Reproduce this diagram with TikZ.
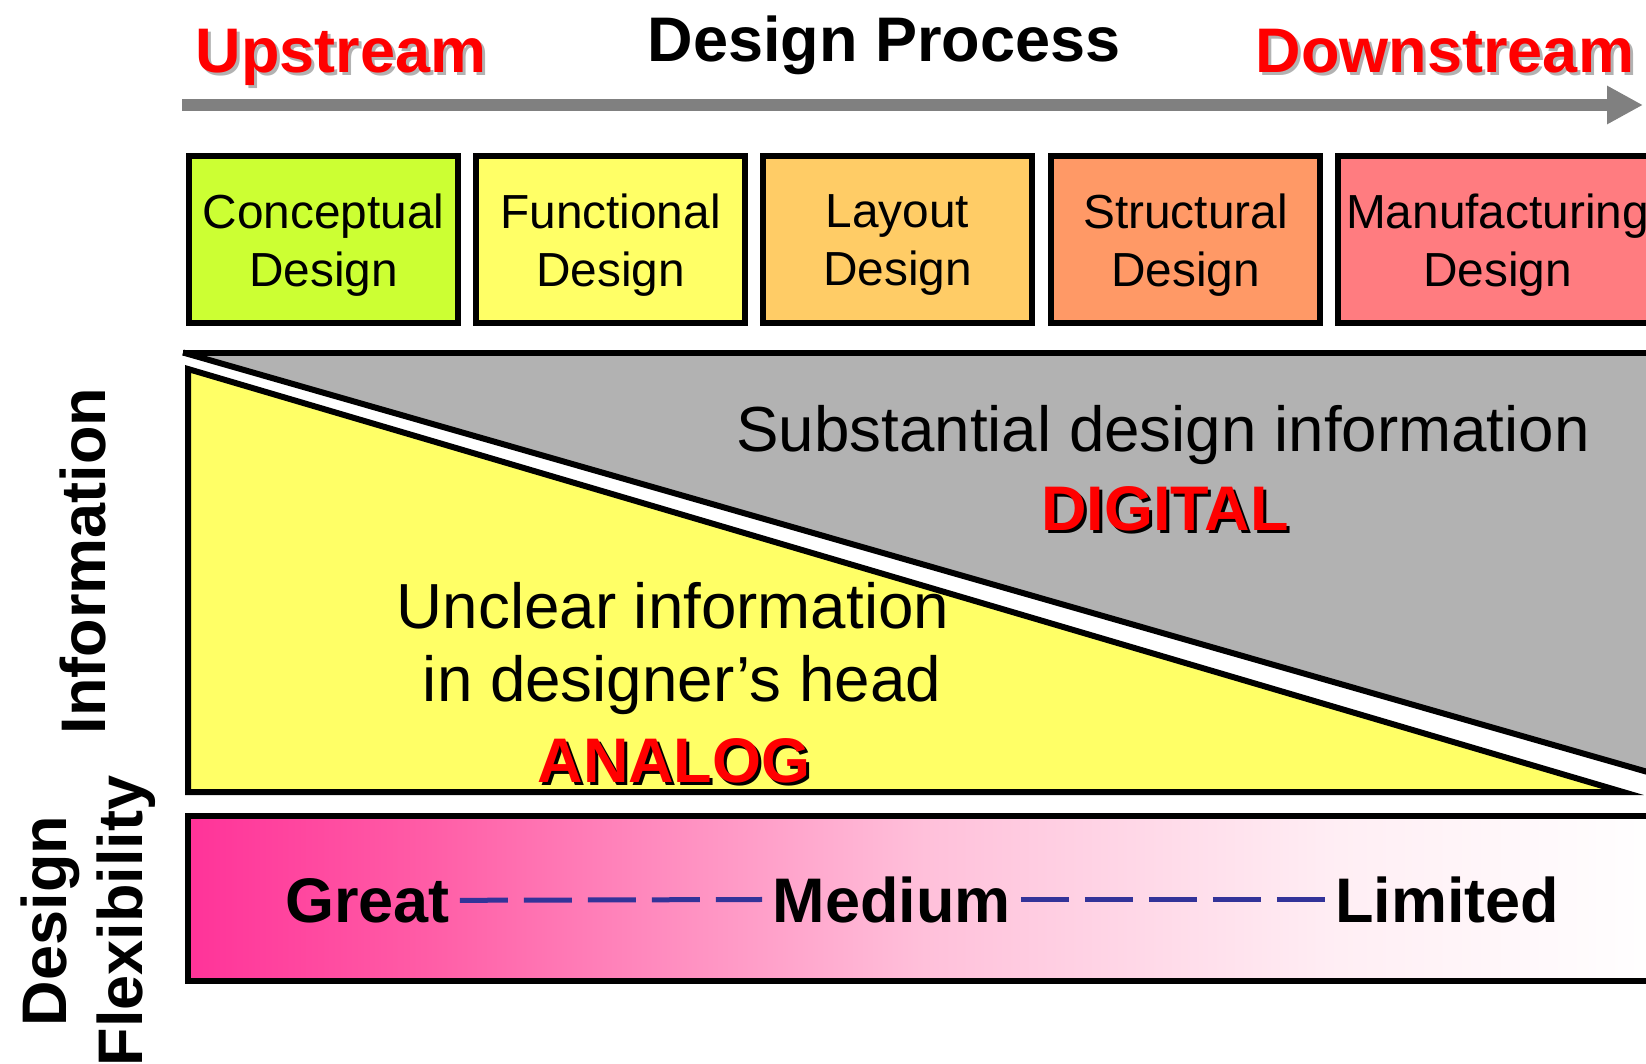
\documentclass[tikz,border=0pt]{standalone}
\usepackage{fontspec}
\setmainfont{Liberation Sans}
\usetikzlibrary{arrows.meta}

\definecolor{cConcept}{HTML}{CCFF33}
\definecolor{cFunction}{HTML}{FFFF66}
\definecolor{cLayout}{HTML}{FFCC66}
\definecolor{cStruct}{HTML}{FF9966}
\definecolor{cManuf}{HTML}{FF7C80}
\definecolor{analogfill}{HTML}{FFFF66}
\definecolor{digitalfill}{HTML}{B2B2B2}
\definecolor{flowgray}{HTML}{808080}
\definecolor{shadowgray}{HTML}{B2B2B2}
\definecolor{dashblue}{HTML}{333399}
\definecolor{hotred}{HTML}{FF0000}
\definecolor{flexA}{RGB}{255,51,153}
\definecolor{flexB}{RGB}{255,92,166}
\definecolor{flexC}{RGB}{255,192,218}
\definecolor{flexD}{RGB}{255,238,244}
\definecolor{flexE}{RGB}{255,255,255}

% pink-to-white fade of the flexibility band (path spans 25bp..75bp)
\pgfdeclarehorizontalshading{flexshade}{100bp}{%
  color(0bp)=(flexA); color(25bp)=(flexA); color(33bp)=(flexB);
  color(50bp)=(flexC); color(64bp)=(flexD); color(75bp)=(flexE);
  color(100bp)=(flexE)}

% text with an offset drop shadow
\newcommand{\dropshadow}[3]{%
  \rlap{\kern3pt\raisebox{-3pt}{\textcolor{#2}{#3}}}\textcolor{#1}{#3}}

\tikzset{
  headline/.style={font=\fontsize{63}{70}\selectfont\bfseries, inner sep=0pt},
  bigtext/.style={font=\fontsize{63.7}{73}\selectfont, inner sep=0pt},
  stage/.style={draw=black, line width=6pt, inner sep=0pt,
                minimum width=269pt, minimum height=167pt},
  stagetext/.style={align=center, inner sep=0pt,
                    font=\fontsize{47.8}{58}\selectfont},
  edge/.style={draw=black, line width=6pt},
  flowarrow/.style={draw=flowgray, line width=12pt,
                    -{Triangle[length=36pt,width=36pt]}},
  flexdash/.style={draw=dashblue, line width=5pt,
                   dash pattern=on 48pt off 16pt}
}

\begin{document}
\begin{tikzpicture}[x=1pt,y=-1pt]
\useasboundingbox (0,0) rectangle (1646,1063);
\clip (0,0) rectangle (1646,1063);

% headings
\node[headline, anchor=base] (up) at (341,72)
  {\dropshadow{hotred}{shadowgray}{Upstream}};
\node[headline, anchor=base] (title) at (884,61) {Design Process};
\node[headline, anchor=base] (down) at (1445,72)
  {\dropshadow{hotred}{shadowgray}{Downstream}};

% process direction
\coordinate (flowstart) at (182,105);
\coordinate (flowend) at (1643,105);
\draw[flowarrow] (flowstart) -- (flowend);

% design stages
\node[stage, fill=cConcept] (s1) at (323.5,239.5) {};
\node[stage, fill=cFunction] (s2) at (610.5,239.5) {};
\node[stage, fill=cLayout] (s3) at (897.5,239.5) {};
\node[stage, fill=cStruct] (s4) at (1185.5,239.5) {};
\node[stage, fill=cManuf, minimum width=319pt] (s5) at (1497.5,239.5) {};
\node[stagetext] (t1) at ([yshift=-6pt]s1.center) {Conceptual\\Design};
\node[stagetext] (t2) at ([yshift=-6pt]s2.center) {Functional\\Design};
\node[stagetext] (t3) at ([yshift=-6pt]s3.center) {Layout\\Design};
\node[stagetext] (t4) at ([yshift=-6pt]s4.center) {Structural\\Design};
\node[stagetext] (t5) at ([yshift=-6pt]s5.center) {Manufacturing\\Design};

% digital wedge
\coordinate (dA) at (183,352.5);
\coordinate (dB) at (1660,352.5);
\coordinate (dC) at (1660,775.5);
\fill[digitalfill] (dA) -- (dB) -- (dC) -- cycle;
\draw[edge] (dA) -- (dB);
\draw[edge] (dA) -- (dC);

% analog wedge
\coordinate (aA) at (188,369);
\coordinate (aB) at (188,792);
\coordinate (aC) at (1623,792);
\draw[edge, fill=analogfill, line join=miter] (aA) -- (aB) -- (aC) -- cycle;

% flexibility band
\path[shade, shading=flexshade, draw=black, line width=6pt]
  (188,815.5) rectangle (1662,981);

% region texts
\node[bigtext, anchor=base] (subst) at (1163,451) {Substantial design information};
\node[headline, anchor=base] (digital) at (1165,530)
  {\dropshadow{hotred}{black}{DIGITAL}};
\node[bigtext, anchor=base] (unclear) at (673,628) {Unclear information};
\node[bigtext, anchor=base] (head) at (682,701) {in designer’s head};
\node[headline, anchor=base] (analog) at (674,782)
  {\dropshadow{hotred}{black}{ANALOG}};

% side labels
\node[headline, anchor=base, rotate=90] (info) at (105,561) {Information};
\node[headline, anchor=base, rotate=90] (designlbl) at (66,921) {Design};
\node[headline, anchor=base, rotate=90] (flexlbl) at (142,921) {Flexibility};

% flexibility scale
\node[headline, anchor=base] (great) at (367.4,922) {Great};
\node[headline, anchor=base] (medium) at (891.7,922) {Medium};
\node[headline, anchor=base] (limited) at (1447,922) {Limited};
\draw[flexdash] ([xshift=10pt]great.east) -- ([xshift=-10.5pt]medium.west);
\draw[flexdash] ([xshift=10pt]medium.east) -- ([xshift=-10pt]limited.west);
\end{tikzpicture}
\end{document}
